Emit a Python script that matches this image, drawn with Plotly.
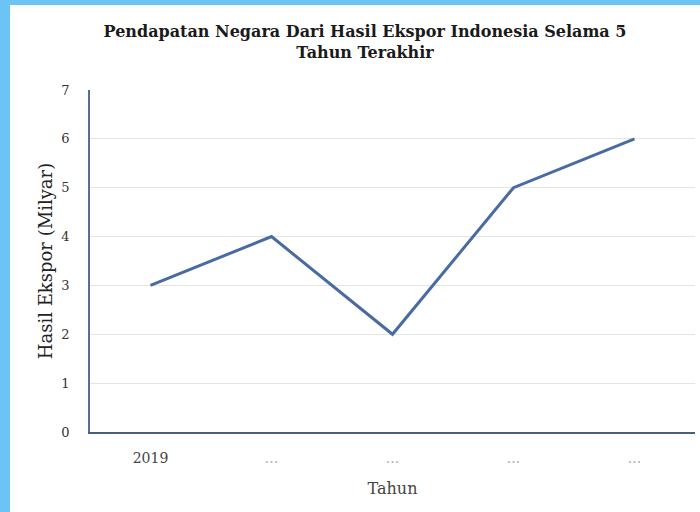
import plotly.graph_objects as go

# Export revenue per year (billions)
years = ["2019", "...", "...", "...", "..."]
values = [3, 4, 2, 5, 6]
y_ticks = [0, 1, 2, 3, 4, 5, 6, 7]

W, H = 700, 512
ML, MR, MT, MB = 90, 5, 90, 80
pw, ph = W - ML - MR, H - MT - MB

def px_x(p):
    return (p - ML) / pw

def px_y(p):
    return (H - MB - p) / ph

# first label in dark text, placeholders in faint grey
tick_text = [y if y != "..." else "<span style='color:#b0b0b0'>" + y + "</span>" for y in years]

fig = go.Figure()
fig.add_trace(go.Scatter(
    x=list(range(len(values))), y=values, mode="lines",
    line=dict(color="#4a6aa2", width=3), hoverinfo="y",
))

serif = "DejaVu Serif, serif"
border = "#6cc4f4"

fig.update_layout(
    width=W, height=H,
    margin=dict(l=ML, r=MR, t=MT, b=MB),
    paper_bgcolor="white", plot_bgcolor="white",
    showlegend=False,
    title=dict(
        text="<b>Pendapatan Negara Dari Hasil Ekspor Indonesia Selama 5<br>Tahun Terakhir</b>",
        x=px_x(365), xref="paper", xanchor="center",
        y=1 - 37 / H, yanchor="middle",
        font=dict(family=serif, size=16, color="#1a1a1a"),
    ),
    xaxis=dict(
        tickmode="array", tickvals=list(range(len(years))), ticktext=tick_text,
        range=[-0.5, len(years) - 0.5],
        showgrid=False, zeroline=False,
        showline=True, linecolor="#4a5f80", linewidth=2,
        ticks="", ticklabelstandoff=12,
        tickfont=dict(family=serif, size=14, color="#444444"),
        title=dict(text="Tahun", font=dict(family=serif, size=16, color="#444444"), standoff=18),
    ),
    yaxis=dict(
        range=[0, 7], tickmode="array", tickvals=y_ticks,
        showgrid=True, gridcolor="#e4e4e4", gridwidth=1,
        zeroline=False,
        showline=True, linecolor="#5a6f90", linewidth=1.5,
        ticks="", ticklabelstandoff=16,
        tickfont=dict(family=serif, size=13, color="#333333"),
        title=dict(text="Hasil Ekspor (Milyar)", font=dict(family=serif, size=18, color="#222222"), standoff=4),
    ),
    shapes=[
        dict(type="rect", xref="paper", yref="paper",
             x0=px_x(0), x1=px_x(10), y0=px_y(H), y1=px_y(0),
             fillcolor=border, line=dict(width=0), layer="above"),
        dict(type="rect", xref="paper", yref="paper",
             x0=px_x(0), x1=px_x(W), y0=px_y(5), y1=px_y(0),
             fillcolor=border, line=dict(width=0), layer="above"),
    ],
)

fig.write_html("out.html")
